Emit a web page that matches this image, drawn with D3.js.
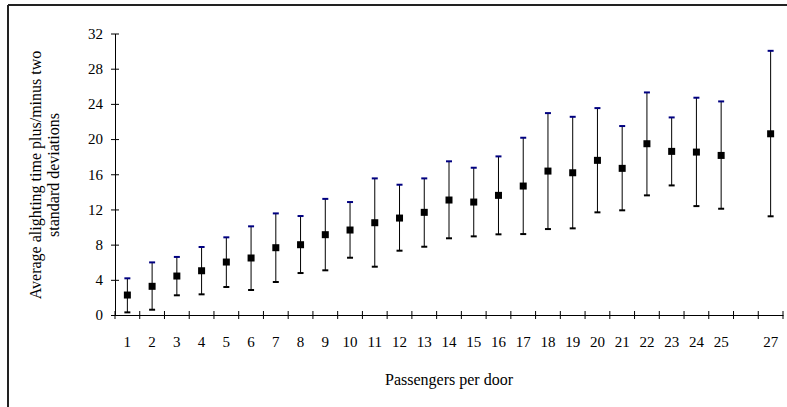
<!DOCTYPE html>
<html>
<head>
<meta charset="utf-8">
<script src="https://cdn.jsdelivr.net/npm/d3@7"></script>
<style>
  body { margin: 0; background: #fff; }
  svg text { font-family: "Liberation Serif", "Times New Roman", serif; fill: #000; }
</style>
</head>
<body>
<div id="chart"></div>
<script>
// Category labels (26 has no observation)
const doors = ["1","2","3","4","5","6","7","8","9","10","11","12","13","14","15","16","17","18","19","20","21","22","23","24","25","","27"];
// Average alighting time
const avgTime = [2.27, 3.26, 4.43, 5.03, 6.02, 6.48, 7.65, 7.99, 9.13, 9.66, 10.49, 11.02, 11.67, 13.07, 12.84, 13.6, 14.66, 16.36, 16.17, 17.58, 16.67, 19.47, 18.6, 18.52, 18.14, null, 20.6];
// plus two standard deviations
const upperTime = [4.17, 5.98, 6.6, 7.73, 8.83, 10.08, 11.55, 11.25, 13.2, 12.84, 15.53, 14.81, 15.53, 17.47, 16.74, 18.03, 20.15, 22.95, 22.53, 23.52, 21.48, 25.3, 22.46, 24.7, 24.28, null, 30.03];
// minus two standard deviations
const lowerTime = [0.3, 0.6, 2.24, 2.35, 3.18, 2.84, 3.75, 4.77, 5.08, 6.51, 5.49, 7.31, 7.76, 8.72, 8.94, 9.17, 9.2, 9.77, 9.85, 11.67, 11.9, 13.6, 14.73, 12.38, 12.08, null, 11.22];
const yTicks = [0, 4, 8, 12, 16, 20, 24, 28, 32];

const W = 787, H = 407;
const svg = d3.select("#chart").append("svg")
  .attr("width", W).attr("height", H);

// Frame (left and top edges visible)
svg.append("line").attr("x1", 8).attr("x2", W).attr("y1", 5).attr("y2", 5)
  .attr("stroke", "#222").attr("stroke-width", 2);
svg.append("line").attr("x1", 8).attr("x2", 8).attr("y1", 5).attr("y2", H)
  .attr("stroke", "#222").attr("stroke-width", 2);

const plotLeft = 115, plotRight = 783, plotTop = 33.5, plotBottom = 315;

const idx = d3.range(doors.length);
const x = d3.scaleBand().domain(idx).range([plotLeft, plotRight]).padding(0);
const y = d3.scaleLinear().domain([0, 32]).range([plotBottom, plotTop]);

// y axis
const yAxis = svg.append("g")
  .attr("transform", `translate(${plotLeft},0)`)
  .call(d3.axisLeft(y).tickValues(yTicks).tickSizeInner(4).tickSizeOuter(0).tickPadding(8));
yAxis.select(".domain").attr("stroke", "#000");
yAxis.selectAll(".tick line").attr("x1", 4).attr("x2", -4).attr("stroke", "#000");
yAxis.selectAll(".tick text").style("font-size", "15px").attr("font-family", null);

// x axis: labels at category centres, ticks at category boundaries
const xAxis = svg.append("g")
  .attr("transform", `translate(0,${plotBottom})`)
  .call(d3.axisBottom(x).tickSize(0).tickFormat(i => doors[i]));
xAxis.select(".domain").attr("stroke", "#000");
xAxis.selectAll(".tick text").attr("y", 32).attr("dy", null)
  .style("font-size", "15px").attr("font-family", null);

const bounds = idx.map(i => x(i)).concat([x(idx[idx.length - 1]) + x.bandwidth()]);
xAxis.selectAll(".bound")
  .data(bounds)
  .enter()
  .append("line")
  .attr("class", "bound")
  .attr("x1", d => d).attr("x2", d => d)
  .attr("y1", -4).attr("y2", 4)
  .attr("stroke", "#000");

// Error bars
const points = idx.filter(i => avgTime[i] != null);
const cx = i => x(i) + x.bandwidth() / 2;
const cap = 3;

svg.selectAll(".bar")
  .data(points)
  .enter()
  .append("line")
  .attr("class", "bar")
  .attr("x1", cx).attr("x2", cx)
  .attr("y1", i => y(upperTime[i])).attr("y2", i => y(lowerTime[i]))
  .attr("stroke", "#000").attr("stroke-width", 1);

svg.selectAll(".capHi")
  .data(points)
  .enter()
  .append("line")
  .attr("class", "capHi")
  .attr("x1", i => cx(i) - cap).attr("x2", i => cx(i) + cap)
  .attr("y1", i => y(upperTime[i])).attr("y2", i => y(upperTime[i]))
  .attr("stroke", "#000080").attr("stroke-width", 2);

svg.selectAll(".capLo")
  .data(points)
  .enter()
  .append("line")
  .attr("class", "capLo")
  .attr("x1", i => cx(i) - cap).attr("x2", i => cx(i) + cap)
  .attr("y1", i => y(lowerTime[i])).attr("y2", i => y(lowerTime[i]))
  .attr("stroke", "#000").attr("stroke-width", 2);

// Mean markers
svg.selectAll(".mark")
  .data(points)
  .enter()
  .append("rect")
  .attr("class", "mark")
  .attr("x", i => cx(i) - 3.5).attr("y", i => y(avgTime[i]) - 3.5)
  .attr("width", 7).attr("height", 7)
  .attr("fill", "#000");

// Axis titles
svg.append("text")
  .attr("x", 449).attr("y", 385)
  .attr("text-anchor", "middle")
  .style("font-size", "16px")
  .text("Passengers per door");

const yTitle = svg.append("text")
  .attr("transform", "translate(41,175) rotate(-90)")
  .attr("text-anchor", "middle")
  .style("font-size", "16px");
yTitle.append("tspan").attr("x", 0).attr("y", 0).text("Average alighting time plus/minus two");
yTitle.append("tspan").attr("x", 0).attr("y", 18).text("standard deviations");
</script>
</body>
</html>
